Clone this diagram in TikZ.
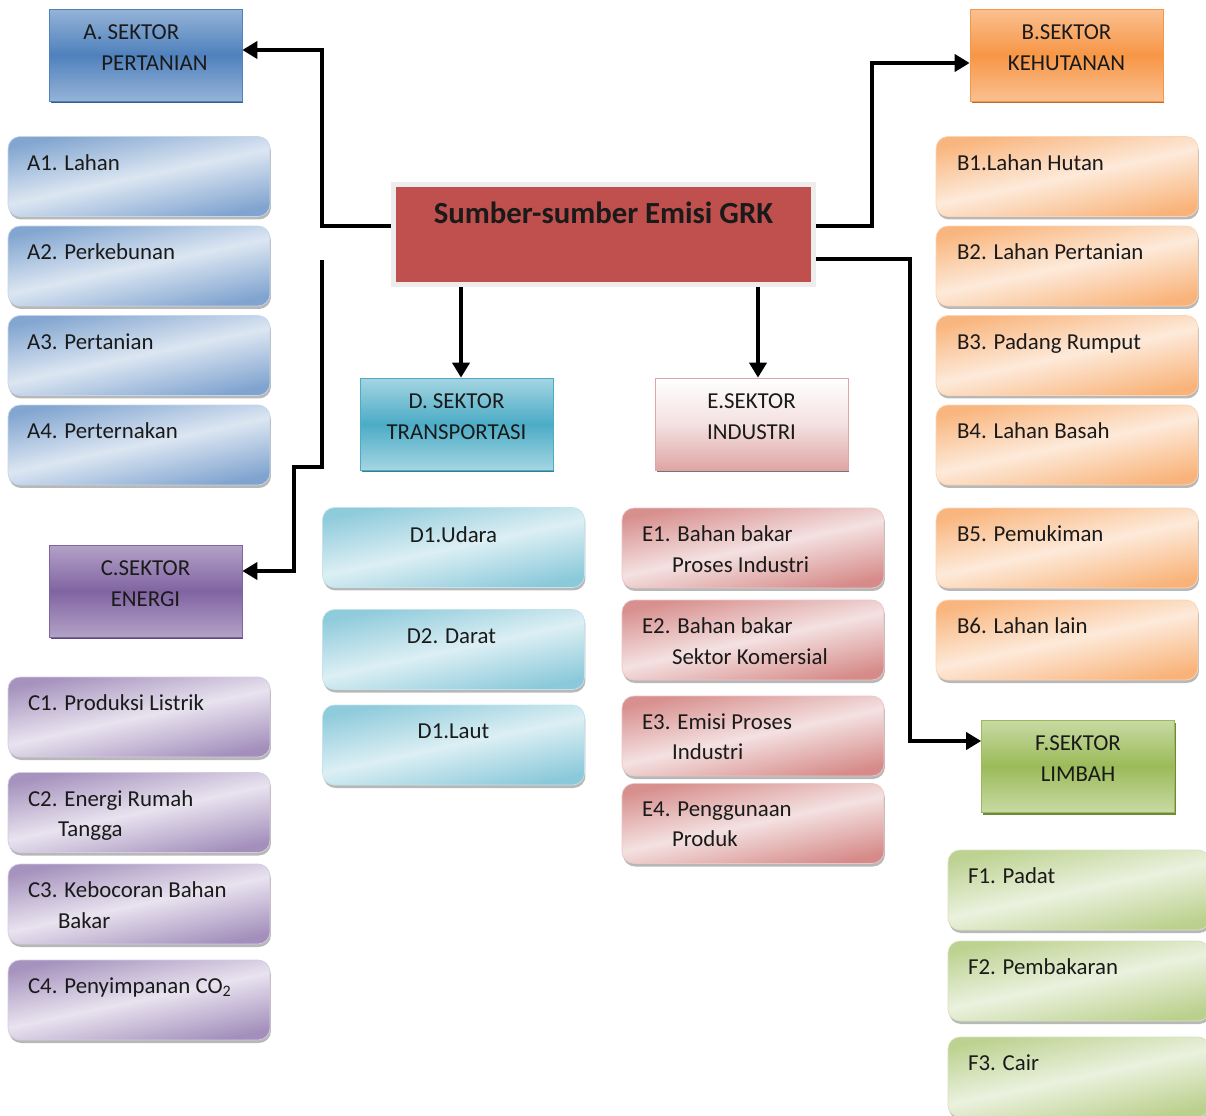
\documentclass[tikz,border=0pt]{standalone}
\usepackage{fontspec}
\setmainfont{Carlito}
\usetikzlibrary{arrows.meta,shadows,calc}
\definecolor{blueD}{HTML}{4F81BD}\definecolor{blueM}{HTML}{95B3D7}\definecolor{blueL}{HTML}{DCE6F2}\definecolor{blueS}{HTML}{385D8A}\definecolor{blueB}{HTML}{C6D6EA}
\definecolor{orD}{HTML}{F79646}\definecolor{orM}{HTML}{FAC090}\definecolor{orL}{HTML}{FDEADA}\definecolor{orS}{HTML}{B66D31}\definecolor{orB}{HTML}{FBD5B5}
\definecolor{puD}{HTML}{8064A2}\definecolor{puM}{HTML}{B3A2C7}\definecolor{puL}{HTML}{E8E3EF}\definecolor{puS}{HTML}{5C4776}\definecolor{puB}{HTML}{D5CCE2}
\definecolor{teD}{HTML}{4BACC6}\definecolor{teM}{HTML}{A5D5E2}\definecolor{teL}{HTML}{DCEFF4}\definecolor{teS}{HTML}{357D91}\definecolor{teB}{HTML}{C4E4ED}
\definecolor{reD}{HTML}{C0504D}\definecolor{reM}{HTML}{DFA5A4}\definecolor{reL}{HTML}{F4E1E1}\definecolor{reS}{HTML}{A8A8A8}\definecolor{reB}{HTML}{EBC6C5}
\definecolor{grD}{HTML}{9BBB59}\definecolor{grM}{HTML}{C8DAA4}\definecolor{grL}{HTML}{EBF1DE}\definecolor{grS}{HTML}{71893F}\definecolor{grB}{HTML}{D7E4BD}
\definecolor{txt}{HTML}{1A1A1A}
\tikzset{
  x=0.02cm, y=-0.02cm,
  hdr/.style={draw=#1D, top color=#1M, bottom color=#1M, middle color=#1D,
    minimum width=3.86cm, minimum height=1.84cm, inner sep=0pt,
    drop shadow={shadow xshift=0.03cm, shadow yshift=-0.05cm, fill=#1S, opacity=1}},
  sub/.style={rounded corners=0.24cm, draw=#1B, top color=#1M!75!#1D, bottom color=#1M!70!#1D, middle color=#1L,
    shading angle=12, minimum width=5.24cm, minimum height=1.6cm, inner sep=0pt,
    drop shadow={shadow xshift=0.02cm, shadow yshift=-0.06cm, fill=black, opacity=0.28}},
  lbl/.style={font=\fontsize{13}{17.2}\selectfont, text=txt, inner sep=0pt, align=left},
  htxt/.style={font=\fontsize{13}{17.6}\selectfont, text=txt, inner sep=0pt, align=center},
  conn/.style={line width=0.08cm, -{Triangle[length=0.3cm,width=0.34cm]}},
  wire/.style={line width=0.08cm}
}
\begin{document}
\begin{tikzpicture}
\useasboundingbox (0,0) rectangle (1206,1115);
\fill[white] (0,0) rectangle (1206,1115);
\clip (0,0) rectangle (1206,1115);

% central node
\node[fill=reD, draw=black!7, line width=0.1cm, minimum width=8.4cm, minimum height=2.0cm,
  drop shadow={shadow xshift=0.03cm, shadow yshift=-0.05cm, fill=black, opacity=0.15}] (ctr) at (603.5,234.5) {};
\node[font=\fontsize{17.5}{20}\selectfont\bfseries, text=txt, inner sep=0pt] (ctrt) at ($(ctr.center)+(0,-22)$) {Sumber-sumber Emisi GRK};

% headers
\node[hdr=blue] (ahdr) at (145.5,55) {};
\node[htxt, align=left] (ahdrt) at ($(ahdr.center)+(0,-7)$) {A. SEKTOR\\\hspace*{0.36cm}PERTANIAN};
\node[hdr=or] (bhdr) at (1066.5,55) {};
\node[htxt] (bhdrt) at ($(bhdr.center)+(0,-7)$) {B.SEKTOR\\KEHUTANAN};
\node[hdr=pu] (chdr) at (145.5,591) {};
\node[htxt] (chdrt) at ($(chdr.center)+(0,-7)$) {C.SEKTOR\\ENERGI};
\node[hdr=te] (dhdr) at (456.5,424) {};
\node[htxt] (dhdrt) at ($(dhdr.center)+(0,-7)$) {D. SEKTOR\\TRANSPORTASI};
\node[hdr=re, draw=reM, top color=white, bottom color=reM, middle color=reL,
  drop shadow={shadow xshift=0.03cm, shadow yshift=-0.05cm, fill=black, opacity=0.3}] (ehdr) at (751.5,424) {};
\node[htxt] (ehdrt) at ($(ehdr.center)+(0,-7)$) {E.SEKTOR\\INDUSTRI};
\node[hdr=gr] (fhdr) at (1078,766) {};
\node[htxt] (fhdrt) at ($(fhdr.center)+(0,-7)$) {F.SEKTOR\\LIMBAH};

% A subs
\node[sub=blue] (a1) at (139,176.5) {};
\node[sub=blue] (a2) at (139,266) {};
\node[sub=blue] (a3) at (139,355.5) {};
\node[sub=blue] (a4) at (139,445) {};
\node[lbl, anchor=north west] (a1t) at ($(a1.north west)+(19,18)$) {A1. Lahan};
\node[lbl, anchor=north west] (a2t) at ($(a2.north west)+(19,18)$) {A2. Perkebunan};
\node[lbl, anchor=north west] (a3t) at ($(a3.north west)+(19,18)$) {A3. Pertanian};
\node[lbl, anchor=north west] (a4t) at ($(a4.north west)+(19,18)$) {A4. Perternakan};

% B subs
\node[sub=or] (b1) at (1067,176.5) {};
\node[sub=or] (b2) at (1067,266) {};
\node[sub=or] (b3) at (1067,355.5) {};
\node[sub=or] (b4) at (1067,445) {};
\node[sub=or] (b5) at (1067,548) {};
\node[sub=or] (b6) at (1067,640) {};
\node[lbl, anchor=north west] (b1t) at ($(b1.north west)+(21,18)$) {B1.Lahan Hutan};
\node[lbl, anchor=north west] (b2t) at ($(b2.north west)+(21,18)$) {B2. Lahan Pertanian};
\node[lbl, anchor=north west] (b3t) at ($(b3.north west)+(21,18)$) {B3. Padang Rumput};
\node[lbl, anchor=north west] (b4t) at ($(b4.north west)+(21,18)$) {B4. Lahan Basah};
\node[lbl, anchor=north west] (b5t) at ($(b5.north west)+(21,18)$) {B5. Pemukiman};
\node[lbl, anchor=north west] (b6t) at ($(b6.north west)+(21,18)$) {B6. Lahan lain};

% C subs
\node[sub=pu] (c1) at (139,717) {};
\node[sub=pu] (c2) at (139,812.5) {};
\node[sub=pu] (c3) at (139,904) {};
\node[sub=pu] (c4) at (139,1000) {};
\node[lbl, anchor=north west] (c1t) at ($(c1.north west)+(20,18)$) {C1. Produksi Listrik};
\node[lbl, anchor=north west] (c2t) at ($(c2.north west)+(20,18)$) {C2. Energi Rumah\\\hspace*{0.6cm}Tangga};
\node[lbl, anchor=north west] (c3t) at ($(c3.north west)+(20,18)$) {C3. Kebocoran Bahan\\\hspace*{0.6cm}Bakar};
\node[lbl, anchor=north west] (c4t) at ($(c4.north west)+(20,18)$) {C4. Penyimpanan CO\textsubscript{2}};

% D subs
\node[sub=te] (d1) at (453.5,547.5) {};
\node[sub=te] (d2) at (453.5,649.5) {};
\node[sub=te] (d3) at (453.5,745) {};
\node[lbl, anchor=north] (d1t) at ($(d1.north)+(0,19)$) {D1.Udara};
\node[lbl, anchor=north] (d2t) at ($(d2.north)+(-2,19)$) {D2. Darat};
\node[lbl, anchor=north] (d3t) at ($(d3.north)+(0,19)$) {D1.Laut};

% E subs
\node[sub=re] (e1) at (753,548) {};
\node[sub=re] (e2) at (753,640) {};
\node[sub=re] (e3) at (753,736) {};
\node[sub=re] (e4) at (753,823.5) {};
\node[lbl, anchor=north west] (e1t) at ($(e1.north west)+(20,18)$) {E1. Bahan bakar\\\hspace*{0.6cm}Proses Industri};
\node[lbl, anchor=north west] (e2t) at ($(e2.north west)+(20,18)$) {E2. Bahan bakar\\\hspace*{0.6cm}Sektor Komersial};
\node[lbl, anchor=north west] (e3t) at ($(e3.north west)+(20,18)$) {E3. Emisi Proses\\\hspace*{0.6cm}Industri};
\node[lbl, anchor=north west] (e4t) at ($(e4.north west)+(20,18)$) {E4. Penggunaan\\\hspace*{0.6cm}Produk};

% F subs
\node[sub=gr] (f1) at (1079,890) {};
\node[sub=gr] (f2) at (1079,981) {};
\node[sub=gr] (f3) at (1079,1077) {};
\node[lbl, anchor=north west] (f1t) at ($(f1.north west)+(20,18)$) {F1. Padat};
\node[lbl, anchor=north west] (f2t) at ($(f2.north west)+(20,18)$) {F2. Pembakaran};
\node[lbl, anchor=north west] (f3t) at ($(f3.north west)+(20,18)$) {F3. Cair};

% connectors
\coordinate (jA) at (322,226);
\coordinate (jB) at (872,226);
\coordinate (jF) at (910,259);
\coordinate (cs) at (322,260);
\coordinate (cb) at (294,467);
\draw[conn] (ctr.west |- jA) -- (jA) |- ($(ahdr.east)+(0,-5)$);
\draw[conn] (ctr.east |- jB) -- (jB) |- ($(bhdr.west)+(0,8)$);
\draw[conn] (ctr.east |- jF) -- (jF) |- ($(fhdr.west)+(0,-25)$);
\draw[conn] (cs) |- (cb) |- ($(chdr.east)+(0,-20)$);
\draw[conn] (ctr.south -| 461,0) -- (dhdr.north -| 461,0);
\draw[conn] (ctr.south -| 758,0) -- (ehdr.north -| 758,0);
\end{tikzpicture}
\end{document}
